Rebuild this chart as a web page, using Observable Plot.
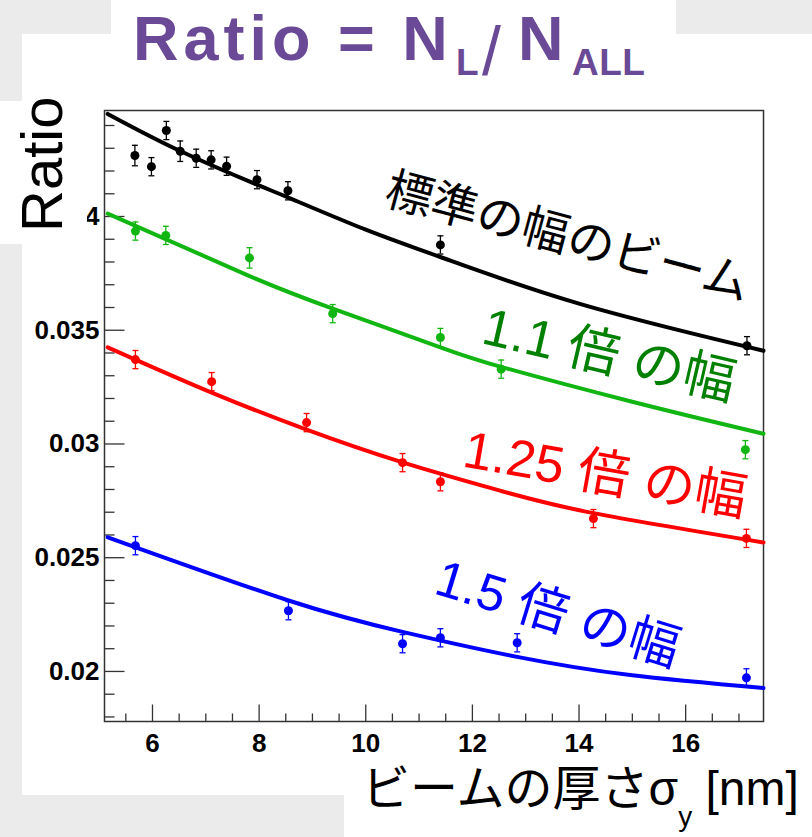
<!DOCTYPE html>
<html><head><meta charset="utf-8">
<script src="https://cdn.jsdelivr.net/npm/d3@7"></script>
<script src="https://cdn.jsdelivr.net/npm/@observablehq/plot@0.6"></script>
<style>
html,body{margin:0;padding:0;background:#fff;}
#wrap{position:relative;width:812px;height:837px;overflow:hidden;background:#fff;}
.patch{position:absolute;background:#ebebeb;}
.abs{position:absolute;white-space:nowrap;line-height:1;}
.ttl{position:absolute;white-space:nowrap;line-height:1;font-family:'Liberation Sans',sans-serif;font-weight:bold;color:#6a4a96;}
.lab{position:absolute;white-space:nowrap;line-height:1;font-family:"Liberation Sans","Noto Sans CJK JP",sans-serif;transform-origin:0 0;}
#chart{position:absolute;left:0;top:0;}
</style></head><body>
<div id="wrap">
  <div class="patch" style="left:0;top:0;width:111px;height:34px"></div>
  <div class="patch" style="left:0;top:34px;width:22px;height:803px"></div>
  <div class="patch" style="left:676px;top:0;width:136px;height:34px"></div>
  <div class="patch" style="left:0;top:795px;width:344px;height:42px"></div>
  <div id="chart"></div>
  <div class="abs" style="left:0;top:101px;width:87px;height:143px;background:#fff"></div>
  <div class="abs" id="ytitle" style="left:13px;top:232px;font-family:'Liberation Sans',sans-serif;font-size:58px;transform:rotate(-90deg);transform-origin:0 0;color:#000">Ratio</div>
  <div class="ttl" style="left:133px;top:7px;font-size:63px;letter-spacing:5px">Ratio = N</div>
  <div class="ttl" style="left:456px;top:44px;font-size:37px">L</div>
  <div class="ttl" style="left:482px;top:17px;font-size:68px;font-weight:normal">/</div>
  <div class="ttl" style="left:518px;top:7px;font-size:63px">N</div>
  <div class="ttl" style="left:572px;top:44px;font-size:37px;letter-spacing:0.5px">ALL</div>
  <div class="abs" id="xtitle" style="left:362px;top:765px;font-family:'Liberation Sans','Noto Sans CJK JP',sans-serif;font-size:48px;color:#000">ビームの厚さσ<span style="font-size:28px;position:relative;top:21px">y</span> [nm]</div>
  <div class="lab" style="left:393px;top:165px;font-size:47px;transform:rotate(15deg);color:#000">標準の幅のビーム</div>
  <div class="lab" style="left:490px;top:300px;font-size:52px;transform:rotate(13deg);color:#008000">1.1 倍 の幅</div>
  <div class="lab" style="left:469px;top:423px;font-size:52px;transform:rotate(10deg);color:#ff0000">1.25 倍 の幅</div>
  <div class="lab" style="left:445px;top:552px;font-size:51px;transform:rotate(17deg);color:#0000ff">1.5 倍 の幅</div>
</div>
<script>
// ---- data ----
const xBlack = [5.67, 5.98, 6.26, 6.52, 6.82, 7.10, 7.39, 7.96, 8.54, 11.40, 17.15];
const yBlack = [0.04268, 0.04219, 0.04378, 0.04287, 0.04256, 0.04249, 0.04221, 0.04162, 0.04113, 0.03875, 0.03432];
const eBlack = [0.00045, 0.0004, 0.0004, 0.00045, 0.0004, 0.0004, 0.0004, 0.0004, 0.0004, 0.0004, 0.0004];

const xGreen = [5.68, 6.25, 7.82, 9.38, 11.40, 12.54, 17.12];
const yGreen = [0.03936, 0.03917, 0.03818, 0.03573, 0.03468, 0.03329, 0.02975];
const eGreen = [0.0004, 0.0004, 0.00045, 0.0004, 0.0004, 0.0004, 0.0004];

const xRed = [5.68, 7.11, 8.89, 10.69, 11.40, 14.27, 17.14];
const yRed = [0.03371, 0.03274, 0.03094, 0.02918, 0.02834, 0.02672, 0.02585];
const eRed = [0.0004, 0.0004, 0.0004, 0.0004, 0.0004, 0.0004, 0.0004];

const xBlue = [5.68, 8.55, 10.69, 11.40, 12.84, 17.14];
const yBlue = [0.02553, 0.02267, 0.02122, 0.02148, 0.02126, 0.01972];
const eBlue = [0.0004, 0.0004, 0.0004, 0.0004, 0.0004, 0.0004];

// fitted curves
const fitXBlack = [5.16, 6.52, 7.96, 8.54, 10.0, 11.4, 14.0, 17.46];
const fitYBlack = [0.04451, 0.04288, 0.04140, 0.04084, 0.03942, 0.03822, 0.03617, 0.0341];
const fitXGreen = [5.16, 7.82, 9.38, 11.4, 12.54, 14.96, 17.46];
const fitYGreen = [0.04013, 0.03738, 0.03595, 0.03425, 0.03339, 0.03188, 0.03045];
const fitXRed = [5.16, 7.11, 8.89, 10.69, 12.53, 14.27, 17.46];
const fitYRed = [0.03425, 0.03226, 0.03063, 0.02919, 0.02794, 0.02696, 0.02567];
const fitXBlue = [5.16, 8.55, 10.69, 12.84, 14.96, 17.46];
const fitYBlue = [0.0259, 0.02312, 0.02174, 0.02064, 0.01984, 0.01927];

// axes
const xDomain = [5.1, 17.46];
const yDomain = [0.0178, 0.04466];
const xMajorTicks = [6, 8, 10, 12, 14, 16];
const xTickLabels = ["6", "8", "10", "12", "14", "16"];
const yMajorTicks = [0.02, 0.025, 0.03, 0.035, 0.04];
const yTickLabels = ["0.02", "0.025", "0.03", "0.035", "0.04"];
const xMinorTicks = d3.range(5.5, 17.01, 0.5).filter(v => !xMajorTicks.includes(v));
const yMinorTicks = d3.range(18, 45).map(v => v / 1000).filter(v => !yMajorTicks.some(m => Math.abs(m - v) < 1e-9));

const series = [
  {color: "#000000", x: xBlack, y: yBlack, e: eBlack, fx: fitXBlack, fy: fitYBlack},
  {color: "#12b612", x: xGreen, y: yGreen, e: eGreen, fx: fitXGreen, fy: fitYGreen},
  {color: "#ff0000", x: xRed, y: yRed, e: eRed, fx: fitXRed, fy: fitYRed},
  {color: "#0000ff", x: xBlue, y: yBlue, e: eBlue, fx: fitXBlue, fy: fitYBlue}
];

const hTick = len => ({draw(ctx) { ctx.moveTo(0, 0); ctx.lineTo(len, 0); }});
const vTick = len => ({draw(ctx) { ctx.moveTo(0, 0); ctx.lineTo(0, -len); }});
const cap = {draw(ctx) { ctx.moveTo(-3, 0); ctx.lineTo(3, 0); }};
const axisColor = "#333";
const tickFont = {fontFamily: "Liberation Sans, Arial, sans-serif", fontWeight: "bold", fontSize: 26, fill: "#000"};

const marks = [
  Plot.frame({stroke: axisColor, strokeWidth: 1.5}),
  Plot.dot(yMajorTicks, {y: d => d, x: () => xDomain[0], symbol: hTick(20), stroke: axisColor, strokeWidth: 1.3, r: 1}),
  Plot.dot(yMinorTicks, {y: d => d, x: () => xDomain[0], symbol: hTick(10), stroke: axisColor, strokeWidth: 1.3, r: 1}),
  Plot.dot(xMajorTicks, {x: d => d, y: () => yDomain[0], symbol: vTick(17), stroke: axisColor, strokeWidth: 1.3, r: 1}),
  Plot.dot(xMinorTicks, {x: d => d, y: () => yDomain[0], symbol: vTick(8), stroke: axisColor, strokeWidth: 1.3, r: 1}),
  Plot.text(yMajorTicks, {y: d => d, frameAnchor: "left", dx: -5, textAnchor: "end", text: (d, i) => yTickLabels[i], ...tickFont}),
  Plot.text(xMajorTicks, {x: d => d, frameAnchor: "bottom", dy: 22, lineAnchor: "middle", text: (d, i) => xTickLabels[i], ...tickFont})
];

for (const s of series) {
  const fit = s.fx.map((x, i) => ({x, y: s.fy[i]}));
  const pts = s.x.map((x, i) => ({x, y: s.y[i], e: s.e[i]}));
  marks.push(
    Plot.line(fit, {x: "x", y: "y", stroke: s.color, strokeWidth: 4, curve: "natural"}),
    Plot.ruleX(pts, {x: "x", y1: d => d.y - d.e, y2: d => d.y + d.e, stroke: s.color, strokeWidth: 1.3}),
    Plot.dot(pts, {x: "x", y: d => d.y + d.e, symbol: cap, stroke: s.color, strokeWidth: 1.3, r: 1}),
    Plot.dot(pts, {x: "x", y: d => d.y - d.e, symbol: cap, stroke: s.color, strokeWidth: 1.3, r: 1}),
    Plot.dot(pts, {x: "x", y: "y", r: 4.5, fill: s.color})
  );
}

const chart = Plot.plot({
  width: 812, height: 837,
  marginLeft: 104, marginRight: 49, marginTop: 110, marginBottom: 116,
  x: {domain: xDomain, axis: null},
  y: {domain: yDomain, axis: null},
  style: {background: "transparent", overflow: "visible"},
  marks
});
document.getElementById("chart").appendChild(chart);
</script>
</body></html>
